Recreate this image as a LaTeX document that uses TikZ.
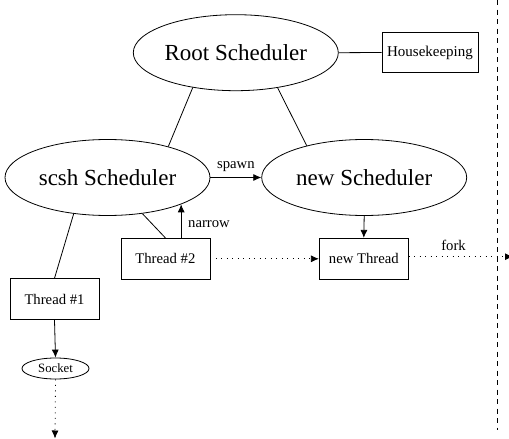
\documentclass[tikz,border=0pt]{standalone}
\usepackage{fontspec}
\setmainfont{Liberation Serif}
\usetikzlibrary{shapes.geometric,arrows.meta}
\begin{document}
\begin{tikzpicture}[x=1pt,y=-1pt,
  every path/.style={line width=0.8pt},
  bigell/.style={draw,ellipse,inner sep=0pt,minimum width=205pt,minimum height=76pt,font=\fontsize{23}{27}\selectfont},
  box/.style={draw,rectangle,inner sep=0pt,minimum width=89pt,minimum height=41pt,font=\fontsize{14.7}{17}\selectfont},
  lbl/.style={inner sep=0pt,font=\fontsize{14.7}{17}\selectfont},
  arr/.style={-{Latex[length=8pt,width=7pt]}},
  dots/.style={dash pattern=on 1pt off 4.5pt}
]
\useasboundingbox (0,0) rectangle (509,439);
\node[bigell] (root) at (235.8,52.7) {Root Scheduler};
\node[draw,rectangle,inner sep=0pt,minimum width=96pt,minimum height=40pt,font=\fontsize{15}{18}\selectfont] (hk) at (430,52.5) {Housekeeping};
\node[bigell] (scsh) at (107.5,177.5) {scsh Scheduler};
\node[bigell] (new) at (364.2,177.5) {new Scheduler};
\node[box] (t1) at (54.5,299.2) {Thread \#1};
\node[box] (t2) at (165.4,258.8) {Thread \#2};
\node[box] (nt) at (363.8,258.8) {new Thread};
\node[draw,ellipse,inner sep=0pt,minimum width=67pt,minimum height=21pt,font=\fontsize{12.7}{15}\selectfont] (sock) at (55.5,368.5) {Socket};
\coordinate (sockend) at (55,438.5);
\coordinate (forkend) at (513,256.7);
\coordinate (vtop) at (497,0);
\coordinate (vbot) at (497,430);

\draw (root.east) -- (hk.west);
\draw (root.219.9) -- (scsh.27.5);
\draw (root.320.5) -- (new.151.2);
\draw[arr] (scsh.east) -- node[lbl,above=5pt] {spawn} (new.west);
\draw (scsh.227.8) -- (t1.north);
\draw (scsh.314.4) -- (t2.north);
\draw[arr] (t2.north -| scsh.-20.8) -- (scsh.-20.8);
\node[lbl] (narrowlbl) at (209,224) {narrow};
\draw[arr] (new.south) -- (nt.north);
\draw[arr,dots] (t2.east) -- (nt.west);
\draw[arr,dots] (nt.east |- forkend) -- (forkend);
\node[lbl] (forklbl) at (453.5,245) {fork};
\draw[arr] (t1.south) -- (sock.north);
\draw[arr,dots] (sock.south) -- (sockend);
\draw[line width=0.7pt,dash pattern=on 5pt off 4.5pt] (vtop) -- (vbot);
\end{tikzpicture}
\end{document}
